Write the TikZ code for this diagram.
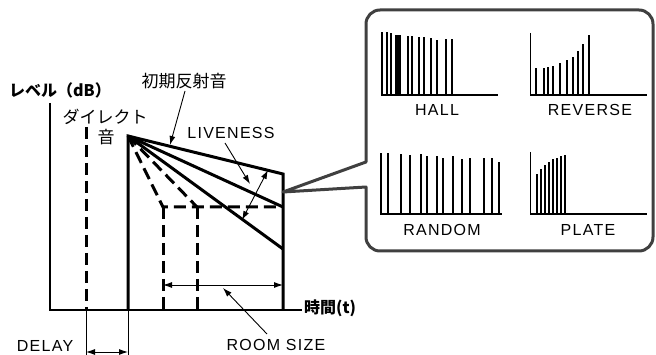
\documentclass[tikz,border=0pt]{standalone}
\usepackage{fontspec}
\setmainfont[LetterSpace=8]{Liberation Sans}
\newfontfamily\jp{Noto Sans CJK JP}
\usetikzlibrary{arrows.meta}
\tikzset{
  thickline/.style={line width=3pt, line join=miter},
  axisline/.style={line width=2.2pt},
  thinline/.style={line width=0.9pt},
  dashline/.style={line width=3pt, dash pattern=on 12pt off 6pt},
  tip/.style={-{Latex[length=9pt,width=6pt]}},
  dtip/.style={{Latex[length=9pt,width=6pt]}-{Latex[length=9pt,width=6pt]}},
  lbl/.style={inner sep=0pt, font=\fontsize{16}{18}\selectfont},
  jlbl/.style={inner sep=0pt, font=\jp\fontsize{17}{19}\selectfont},
  callout/.style={line width=3pt, black!75, line join=round},
  bar/.style={line width=1.8pt},
  pbase/.style={line width=1.4pt},
  paxis/.style={line width=1pt},
}
\begin{document}
\begin{tikzpicture}[x=1pt,y=-1pt]
\useasboundingbox (0,0) rectangle (656,355);
% key points
\coordinate (O) at (50,310);
\coordinate (Ytop) at (50,103);
\coordinate (Xend) at (302,310);
\coordinate (A) at (128,136);
\coordinate (A0) at (128,310);
\coordinate (T) at (283,174);
\coordinate (M) at (283,207);
\coordinate (B) at (283,249);
\coordinate (R0) at (283,310);
\coordinate (D0) at (86,310);
\coordinate (Dtop) at (86,127);
\coordinate (C1) at (163,207);
\coordinate (C2) at (197,207);
\coordinate (C1b) at (163,310);
\coordinate (C2b) at (197,310);
% axes
\draw[axisline] (Ytop) -- (O) -- (Xend);
\node[jlbl, anchor=west, font=\jp\bfseries\fontsize{16}{18}\selectfont] (tlabel) at (304,308) {時間(t)};
\node[jlbl, font=\jp\bfseries\fontsize{16}{18}\selectfont] (ylabel) at (60,90) {レベル（dB）};
% direct sound
\draw[dashline] (Dtop) -- (D0);
\node[jlbl] (direct) at (105,117) {ダイレクト};
\node[jlbl] (on) at (106,137) {音};
% envelope
\draw[thickline] (A0) -- (A) -- (T) -- (R0);
\draw[thickline] (A) -- (M);
\draw[thickline] (A) -- (B);
\draw[dashline] (A) -- (C1) -- (M);
\draw[dashline] (A) -- (C2);
\draw[dashline] (C1) -- (C1b);
\draw[dashline] (C2) -- (C2b);
% early reflections label
\node[jlbl] (early) at (184,81) {初期反射音};
\coordinate (earlytip) at (170,145);
\draw[thinline, tip] (185,91) -- (earlytip);
% liveness
\node[lbl] (live) at (231,133) {LIVENESS};
\coordinate (livetip) at (250,184);
\draw[thinline, tip] (225,143) -- (livetip);
\coordinate (lv1) at (268,170);
\coordinate (lv2) at (242,220);
\draw[thinline, dtip] (lv1) -- (lv2);
% room size
\coordinate (rs1) at (163,285);
\coordinate (rs2) at (283,285);
\draw[thinline, dtip] (rs1) -- (rs2);
\node[lbl] (room) at (276,345) {ROOM SIZE};
\coordinate (roomtip) at (223,288);
\draw[thinline, tip] (267,334) -- (roomtip);
% delay
\coordinate (dl1) at (86,362);
\coordinate (dl2) at (128,362);
\draw[thinline] (D0) -- (dl1);
\draw[thinline] (A0) -- (dl2);
\coordinate (da1) at (86,352);
\coordinate (da2) at (128,352);
\draw[thinline, dtip] (da1) -- (da2);
\node[lbl] (delay) at (45,346) {DELAY};
% callout
\coordinate (ctip) at (283,192);
\draw[callout] (ctip) -- (366,162) [rounded corners=14pt] -- (366,10) -- (653,10) -- (653,251) -- (366,251) [sharp corners] -- (366,187) -- cycle;
% HALL panel
\draw[pbase] (381,95) -- (498,95);
\foreach \x/\t in {382/32,387/32,391/33,396/35,397.5/35,399/35,400.5/35,408/36,412/36,419/37,424/37,431/38,437/40,446/39,452/39}
  \draw[bar] (\x,95) -- (\x,\t);
\node[lbl] (hall) at (437,110) {HALL};
% REVERSE panel
\draw[paxis] (530,33) -- (530,95);
\draw[pbase] (530,95) -- (647,95);
\foreach \x/\t in {536/68,544/68,548/67,553/66,560/63,567/60,573/57,578/51,583/44,589/35}
  \draw[bar] (\x,95) -- (\x,\t);
\node[lbl] (reverse) at (590,110) {REVERSE};
% RANDOM panel
\draw[pbase] (380,214) -- (502,214);
\foreach \x/\t in {381/153,388/153,401/154,410/155,421/154,427/156,437/156,443/158,453/156,462/159,470/158,484/158,492/158,499/162}
  \draw[bar] (\x,214) -- (\x,\t);
\node[lbl] (random) at (442,230) {RANDOM};
% PLATE panel
\draw[paxis] (530,152) -- (530,214);
\draw[pbase] (530,214) -- (647,214);
\foreach \x/\t in {537/174,541/169,545/165,549/162,553/159,557/158,561/156,565/155}
  \draw[bar] (\x,214) -- (\x,\t);
\node[lbl] (plate) at (588,230) {PLATE};
\end{tikzpicture}
\end{document}
